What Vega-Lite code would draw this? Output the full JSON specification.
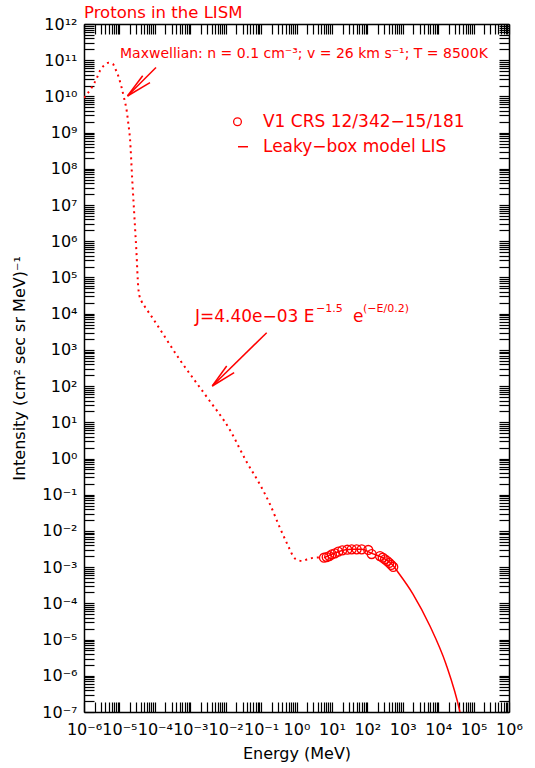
{
  "$schema": "https://vega.github.io/schema/vega-lite/v6.json",
  "width": 425,
  "height": 688,
  "autosize": "none",
  "padding": {"left": 84, "top": 24, "right": 26, "bottom": 56},
  "title": {"text": "Protons in the LISM", "anchor": "start", "frame": "group", "color": "#ff0000", "fontSize": 16.5, "fontWeight": "normal", "font": "DejaVu Sans", "offset": -5},
  "datasets": {
    "dotted": [
      {"E": 1.0e-6, "J": 9.2e9}, {"E": 1.66e-6, "J": 1.778e10}, {"E": 2.29e-6, "J": 3.162e10}, {"E": 2.82e-6, "J": 5.13e10},
      {"E": 3.63e-6, "J": 7.08e10}, {"E": 4.90e-6, "J": 8.51e10}, {"E": 6.46e-6, "J": 7.94e10}, {"E": 7.94e-6, "J": 5.37e10},
      {"E": 9.77e-6, "J": 3.16e10}, {"E": 1.148e-5, "J": 1.78e10}, {"E": 1.35e-5, "J": 9.12e9}, {"E": 1.62e-5, "J": 3.80e9},
      {"E": 1.78e-5, "J": 1.82e9}, {"E": 2.00e-5, "J": 6.31e8}, {"E": 2.29e-5, "J": 5.50e7}, {"E": 2.63e-5, "J": 5.37e6},
      {"E": 3.02e-5, "J": 5.13e5}, {"E": 3.39e-5, "J": 5.62e4}, {"E": 3.63e-5, "J": 3.31e4}, {"E": 4.27e-5, "J": 2.14e4},
      {"E": 5.25e-5, "J": 1.55e4}, {"E": 8.13e-5, "J": 8.32e3}, {"E": 5.13e-4, "J": 525}, {"E": 2.88e-3, "J": 51.3},
      {"E": 0.01318, "J": 6.166}, {"E": 0.0389, "J": 0.813}, {"E": 0.0871, "J": 0.2138}, {"E": 0.1778, "J": 0.055},
      {"E": 0.339, "J": 0.0123}, {"E": 0.661, "J": 0.00295}, {"E": 0.813, "J": 0.00195}, {"E": 1.047, "J": 0.001585},
      {"E": 1.479, "J": 0.001479}, {"E": 2.138, "J": 0.001698}, {"E": 3.09, "J": 0.00182}, {"E": 4.571, "J": 0.001862}
    ],
    "lis": [
      {"E": 5.97, "J": 0.001824}, {"E": 15.1, "J": 0.00267}, {"E": 36.1, "J": 0.00311}, {"E": 69.2, "J": 0.00311},
      {"E": 132, "J": 0.0024}, {"E": 271, "J": 0.00182}, {"E": 539.5, "J": 0.0011}, {"E": 602.6, "J": 0.000948},
      {"E": 1945, "J": 0.000181}, {"E": 5861, "J": 2.37e-5}, {"E": 16600, "J": 2.11e-6}, {"E": 41210, "J": 1.0e-7},
      {"E": 50120, "J": 3.98e-8}
    ],
    "crs": [
      {"E": 5.97, "J": 0.001824}, {"E": 7.11, "J": 0.001905}, {"E": 8.41, "J": 0.002032}, {"E": 10.0, "J": 0.002265},
      {"E": 12.2, "J": 0.00241}, {"E": 15.1, "J": 0.002673}, {"E": 19.6, "J": 0.002917}, {"E": 27.2, "J": 0.003034},
      {"E": 36.1, "J": 0.003112}, {"E": 50.0, "J": 0.003112}, {"E": 69.2, "J": 0.003112}, {"E": 106.2, "J": 0.002979},
      {"E": 132.4, "J": 0.002307}, {"E": 227.5, "J": 0.002032}, {"E": 271.0, "J": 0.001824}, {"E": 314.8, "J": 0.001648},
      {"E": 365.6, "J": 0.001479}, {"E": 415.9, "J": 0.001303}, {"E": 474.2, "J": 0.001148}, {"E": 539.5, "J": 0.001012}
    ],
    "segments": [
      {"E": 1.69e-5, "J": 1.028e10, "E2": 1.079e-4, "J2": 6.31e10},
      {"E": 1.69e-5, "J": 1.028e10, "E2": 4.54e-5, "J2": 3.73e10},
      {"E": 1.69e-5, "J": 1.028e10, "E2": 7.30e-5, "J2": 2.39e10},
      {"E": 4.188e-3, "J": 100.7, "E2": 0.1439, "J2": 2985},
      {"E": 4.188e-3, "J": 100.7, "E2": 0.01069, "J2": 358.9},
      {"E": 4.188e-3, "J": 100.7, "E2": 0.01734, "J2": 234.4},
      {"E": 0.02228, "J": 4.08e8, "E2": 0.04266, "J2": 4.08e8}
    ],
    "legendpt": [{"E": 0.02158, "J": 2.0e9}],
    "bigtext": [
      {"E": 1.361e-3, "J": 8091, "label": "J=4.40e−03 E"},
      {"E": 39.36, "J": 8091, "label": "e"},
      {"E": 0.1132, "J": 2.0e9, "label": "V1 CRS 12/342−15/181"},
      {"E": 0.1132, "J": 4.08e8, "label": "Leaky−box model LIS"}
    ],
    "suptext": [
      {"E": 3.548, "J": 13460, "label": "−1.5"},
      {"E": 75.34, "J": 13460, "label": "(−E/0.2)"}
    ],
    "maxtext": [
      {"E": 1.038e-5, "J": 1.48e11, "label": "Maxwellian: n = 0.1 cm⁻³; v = 26 km s⁻¹; T = 8500K"}
    ]
  },
  "resolve": {"axis": {"x": "independent", "y": "independent"}},
  "layer": [
    {
      "data": {"name": "dotted"},
      "mark": {"type": "line", "color": "#ff0000", "strokeWidth": 2, "strokeDash": [2, 4], "interpolate": "monotone", "clip": true},
      "encoding": {
        "x": {"field": "E", "type": "quantitative", "scale": {"type": "log", "domain": [1e-6, 1e6], "nice": false},
          "axis": {"orient": "bottom", "title": "Energy (MeV)", "titleY": 33, "labelPadding": 19, "ticks": true, "tickCount": 150,
            "labelExpr": "abs(log(datum.value)/LN10 - round(log(datum.value)/LN10)) < 0.001 ? '10' + (round(log(datum.value)/LN10) < 0 ? '⁻' : '') + (abs(round(log(datum.value)/LN10)) >= 10 ? '¹' : '') + substring('⁰¹²³⁴⁵⁶⁷⁸⁹', abs(round(log(datum.value)/LN10)) % 10, abs(round(log(datum.value)/LN10)) % 10 + 1) : ''"}},
        "y": {"field": "J", "type": "quantitative", "scale": {"type": "log", "domain": [1e-7, 1e12], "nice": false},
          "axis": {"orient": "left", "title": "Intensity (cm² sec sr MeV)⁻¹", "titleX": -57, "titleY": 344, "labelPadding": 17, "ticks": true, "tickCount": 150,
            "labelExpr": "abs(log(datum.value)/LN10 - round(log(datum.value)/LN10)) < 0.001 ? '10' + (round(log(datum.value)/LN10) < 0 ? '⁻' : '') + (abs(round(log(datum.value)/LN10)) >= 10 ? '¹' : '') + substring('⁰¹²³⁴⁵⁶⁷⁸⁹', abs(round(log(datum.value)/LN10)) % 10, abs(round(log(datum.value)/LN10)) % 10 + 1) : ''"}}
      }
    },
    {
      "data": {"name": "lis"},
      "mark": {"type": "line", "color": "#ff0000", "strokeWidth": 1.5, "interpolate": "monotone", "clip": true},
      "encoding": {
        "x": {"field": "E", "type": "quantitative", "scale": {"type": "log", "domain": [1e-6, 1e6], "nice": false},
          "axis": {"orient": "top", "title": null, "labelExpr": "''", "ticks": true, "tickCount": 150}},
        "y": {"field": "J", "type": "quantitative", "scale": {"type": "log", "domain": [1e-7, 1e12], "nice": false},
          "axis": {"orient": "right", "title": null, "labelExpr": "''", "ticks": true, "tickCount": 150}}
      }
    },
    {
      "data": {"name": "crs"},
      "mark": {"type": "point", "shape": "circle", "filled": false, "color": "#ff0000", "size": 80, "strokeWidth": 1.3, "opacity": 1},
      "encoding": {
        "x": {"field": "E", "type": "quantitative", "axis": null},
        "y": {"field": "J", "type": "quantitative", "axis": null}
      }
    },
    {
      "data": {"name": "legendpt"},
      "mark": {"type": "point", "shape": "circle", "filled": false, "color": "#ff0000", "size": 60, "strokeWidth": 1.3, "opacity": 1},
      "encoding": {
        "x": {"field": "E", "type": "quantitative", "axis": null},
        "y": {"field": "J", "type": "quantitative", "axis": null}
      }
    },
    {
      "data": {"name": "segments"},
      "mark": {"type": "rule", "color": "#ff0000", "strokeWidth": 1.5},
      "encoding": {
        "x": {"field": "E", "type": "quantitative", "axis": null},
        "y": {"field": "J", "type": "quantitative", "axis": null},
        "x2": {"field": "E2"},
        "y2": {"field": "J2"}
      }
    },
    {
      "data": {"name": "bigtext"},
      "mark": {"type": "text", "color": "#ff0000", "align": "left", "baseline": "middle", "fontSize": 17, "font": "DejaVu Sans"},
      "encoding": {
        "x": {"field": "E", "type": "quantitative", "axis": null},
        "y": {"field": "J", "type": "quantitative", "axis": null},
        "text": {"field": "label"}
      }
    },
    {
      "data": {"name": "suptext"},
      "mark": {"type": "text", "color": "#ff0000", "align": "left", "baseline": "middle", "fontSize": 11, "font": "DejaVu Sans"},
      "encoding": {
        "x": {"field": "E", "type": "quantitative", "axis": null},
        "y": {"field": "J", "type": "quantitative", "axis": null},
        "text": {"field": "label"}
      }
    },
    {
      "data": {"name": "maxtext"},
      "mark": {"type": "text", "color": "#ff0000", "align": "left", "baseline": "middle", "fontSize": 14, "font": "DejaVu Sans"},
      "encoding": {
        "x": {"field": "E", "type": "quantitative", "axis": null},
        "y": {"field": "J", "type": "quantitative", "axis": null},
        "text": {"field": "label"}
      }
    }
  ],
  "config": {
    "font": "DejaVu Sans",
    "view": {"stroke": null},
    "axis": {
      "domainColor": "black", "domainWidth": 1.5, "tickColor": "black", "tickWidth": 1.2, "tickSize": -10,
      "labelOverlap": false, "labelFlush": false, "labelColor": "black", "labelFont": "DejaVu Sans",
      "labelFontSize": 16, "titleFont": "DejaVu Sans", "titleFontSize": 16, "titleFontWeight": "normal", "titleColor": "black", "grid": false
    }
  }
}
